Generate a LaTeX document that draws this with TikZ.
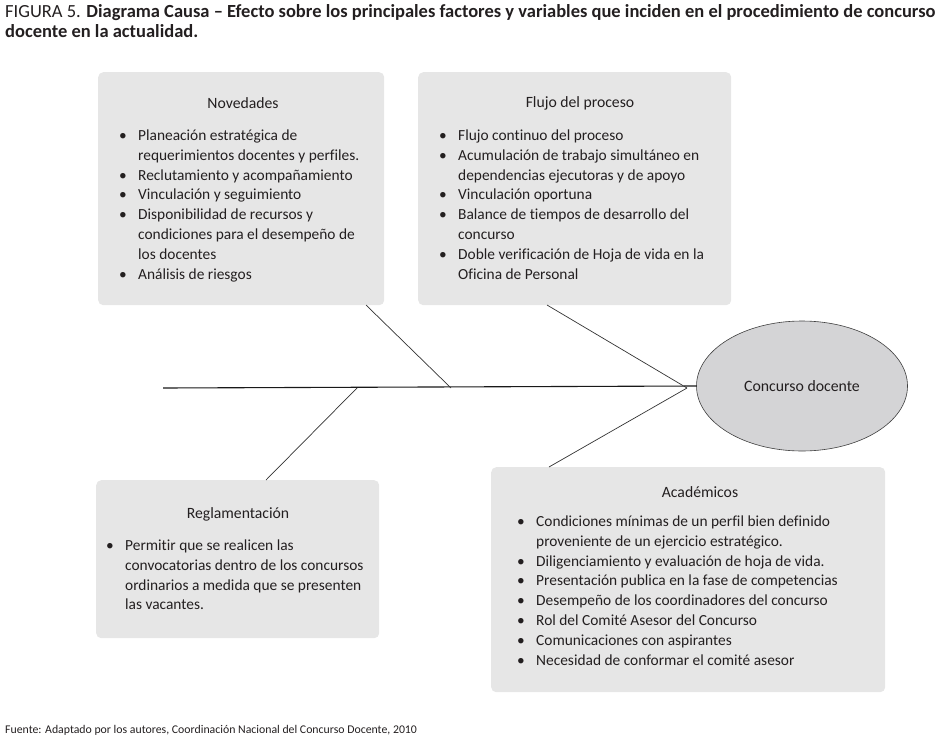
\documentclass[tikz,border=0pt]{standalone}
\usepackage{fontspec}
\setmainfont{Carlito}[Ligatures=NoCommon]
\usetikzlibrary{shapes.geometric}
\definecolor{boxgray}{HTML}{E6E6E6}
\definecolor{ellgray}{HTML}{D4D4D6}
\definecolor{txt}{HTML}{231F20}
\newcommand{\bi}{\makebox[19pt][l]{•}}
\newcommand{\ci}{\hspace*{19pt}}
\tikzset{
  box/.style={rectangle, rounded corners=5pt, fill=boxgray, inner sep=0pt, anchor=north west},
  ttl/.style={font=\fontsize{15.7}{18}\selectfont, text=txt, inner sep=0pt},
  lst/.style={font=\fontsize{15.4}{19.86}\selectfont, align=left, anchor=north west, inner sep=0pt, text=txt},
  branch/.style={draw=black!80, line width=0.7pt},
  spine/.style={draw=black!90, line width=1.1pt}
}
\begin{document}
\begin{tikzpicture}[x=1pt,y=-1pt]
\useasboundingbox (0,0) rectangle (941,741);
% title
\node[anchor=north west, inner sep=0pt, align=left, text=txt, font=\fontsize{18.5}{20.5}\selectfont] (title) at (5,4)
  {FIGURA 5. \textbf{Diagrama Causa – Efecto sobre los principales factores y variables que inciden en el procedimiento de concurso}\\
   \textbf{docente en la actualidad.}};
% boxes
\node[box, minimum width=286pt, minimum height=233pt] (nov) at (98,72) {};
\node[box, minimum width=313pt, minimum height=233pt] (flu) at (418,72) {};
\node[box, minimum width=283pt, minimum height=158pt] (reg) at (96,480) {};
\node[box, minimum width=394pt, minimum height=225pt] (aca) at (491,467) {};
% ellipse
\node[ellipse, draw=black!75, line width=0.6pt, fill=ellgray, minimum width=211pt, minimum height=130pt, inner sep=0pt,
      font=\fontsize{15.8}{18}\selectfont, text=txt] (eff) at (802,386) {Concurso docente};
% titles
\node[ttl] (novt) at (243,103) {Novedades};
\node[ttl] (flut) at (580,103) {Flujo del proceso};
\node[ttl] (regt) at (238,514) {Reglamentación};
\node[ttl] (acat) at (700,492) {Académicos};
% lists
\node[lst] (novl) at (119,129.5) {\bi Planeación estratégica de\\
\ci requerimientos docentes y perfiles.\\
\bi Reclutamiento y acompañamiento\\
\bi Vinculación y seguimiento\\
\bi Disponibilidad de recursos y\\
\ci condiciones para el desempeño de\\
\ci los docentes\\
\bi Análisis de riesgos};
\node[lst] (flul) at (439,129.5) {\bi Flujo continuo del proceso\\
\bi Acumulación de trabajo simultáneo en\\
\ci dependencias ejecutoras y de apoyo\\
\bi Vinculación oportuna\\
\bi Balance de tiempos de desarrollo del\\
\ci concurso\\
\bi Doble verificación de Hoja de vida en la\\
\ci Oficina de Personal};
\node[lst] (regl) at (106,539.5) {\bi Permitir que se realicen las\\
\ci convocatorias dentro de los concursos\\
\ci ordinarios a medida que se presenten\\
\ci las vacantes.};
\node[lst] (acal) at (517,515.5) {\bi Condiciones mínimas de un perfil bien definido\\
\ci proveniente de un ejercicio estratégico.\\
\bi Diligenciamiento y evaluación de hoja de vida.\\
\bi Presentación publica en la fase de competencias\\
\bi Desempeño de los coordinadores del concurso\\
\bi Rol del Comité Asesor del Concurso\\
\bi Comunicaciones con aspirantes\\
\bi Necesidad de conformar el comité asesor};
% footnote
\node[anchor=west, inner sep=0pt, text=txt, font=\fontsize{11.8}{13}\selectfont] (src) at (5,730)
  {Fuente: Adaptado por los autores, Coordinación Nacional del Concurso Docente, 2010};
% fishbone
\coordinate (tail) at (163,388);
\coordinate (head) at (687,388);
\coordinate (j1) at (451,388);
\coordinate (j2) at (357,388);
\coordinate (novb) at (366,305);
\coordinate (flub) at (547,305);
\coordinate (regb) at (266,480);
\coordinate (acab) at (549,467);
\draw[spine] (tail) -- (eff.west);
\draw[branch] (novb) -- (j1);
\draw[branch] (flub) -- (head);
\draw[branch] (acab) -- (head);
\draw[branch] (regb) -- (j2);
\end{tikzpicture}
\end{document}
